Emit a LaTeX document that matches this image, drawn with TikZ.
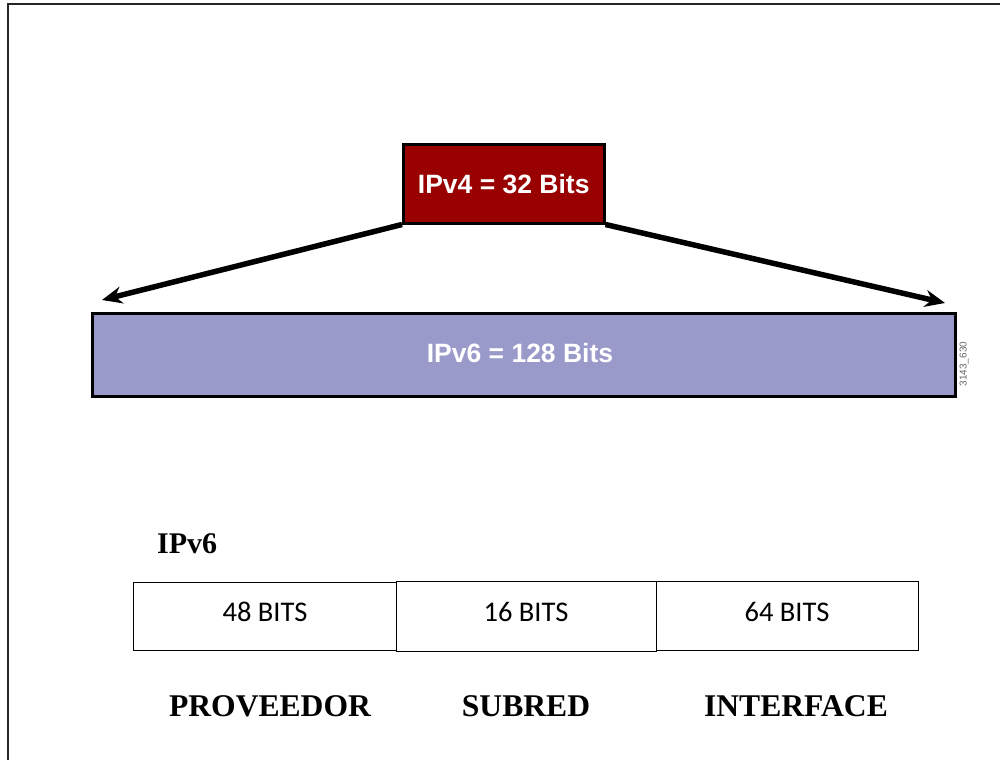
\documentclass[tikz,border=0pt]{standalone}
\usepackage{fontspec}
\setmainfont{Liberation Serif}
\newfontfamily\arialfont{Liberation Sans}
\newfontfamily\calfont{Carlito}
\usetikzlibrary{arrows.meta}
\definecolor{ipvred}{HTML}{990000}
\definecolor{ipvpurple}{HTML}{9999CA}
\begin{document}
\begin{tikzpicture}[x=1pt,y=-1pt,
  bigbox/.style={draw=black,line width=2.5pt,inner sep=0pt,anchor=north west},
  bigtext/.style={text=white,font=\arialfont\bfseries\fontsize{26.5}{30}\selectfont},
  fieldbox/.style={draw=black,line width=1.3pt,anchor=north west,inner sep=0pt},
  fieldtext/.style={font=\calfont\fontsize{28.5}{32}\selectfont},
  fieldlabel/.style={font=\bfseries\fontsize{31.6}{36}\selectfont},
  bigarrow/.style={line width=5.5pt,-{Stealth[length=20pt,width=17pt]}}]
\useasboundingbox (0,0) rectangle (1000,760);
\draw[line width=2pt,black!85] (1000,4) -- (8,4) -- (8,760);
% IPv4 box
\node[bigbox,fill=ipvred,minimum width=201pt,minimum height=79pt] (v4) at (402,143) {};
\node[bigtext] (v4t) at (v4.center) {IPv4 = 32 Bits};
% IPv6 box
\node[bigbox,fill=ipvpurple,minimum width=863pt,minimum height=83pt] (v6) at (91,312) {};
\node[bigtext] (v6t) at (520,353) {IPv6 = 128 Bits};
\node[rotate=90,text=black!60,font=\arialfont\fontsize{10}{11}\selectfont,inner sep=0pt] (code) at (964,364) {3143\_630};
% arrows
\coordinate (lt) at (102,300);
\coordinate (rt) at (945,303);
\draw[bigarrow] (v4.south west) -- (lt);
\draw[bigarrow] (v4.south east) -- (rt);
% lower part
\node[anchor=west,font=\bfseries\fontsize{30}{34}\selectfont,inner sep=0pt] (title) at (157,544) {IPv6};
\node[fieldbox,minimum width=263pt,minimum height=68pt] (f1) at (133,582) {};
\node[fieldbox,minimum width=260pt,minimum height=70pt] (f2) at (396,581) {};
\node[fieldbox,minimum width=262pt,minimum height=69pt] (f3) at (656,581) {};
\node[fieldtext] (t1) at (265,612) {48 BITS};
\node[fieldtext] (t2) at (526,612) {16 BITS};
\node[fieldtext] (t3) at (787,612) {64 BITS};
\node[fieldlabel] (l1) at (270,706) {PROVEEDOR};
\node[fieldlabel] (l2) at (526,706) {SUBRED};
\node[fieldlabel] (l3) at (796,706) {INTERFACE};
\end{tikzpicture}
\end{document}
